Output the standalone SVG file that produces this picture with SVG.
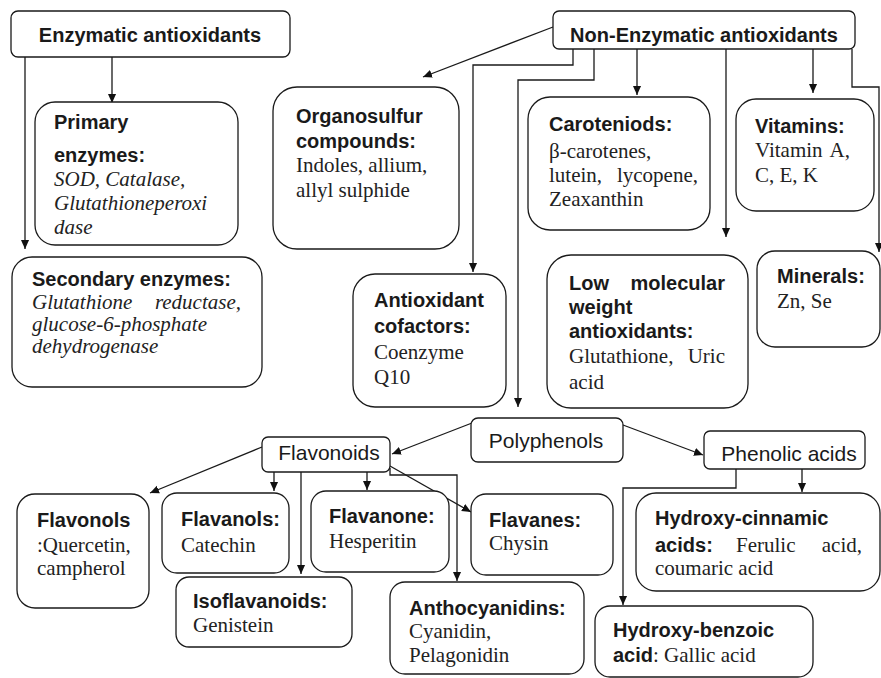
<svg xmlns="http://www.w3.org/2000/svg" width="881" height="678" viewBox="0 0 881 678">
  <defs>
    <marker id="ah" viewBox="0 0 10 10" refX="10" refY="5" markerWidth="9" markerHeight="9" markerUnits="userSpaceOnUse" orient="auto">
      <path d="M0,0.5 L10,5 L0,9.5 z" fill="#111"/>
    </marker>
    <style>
      .box { fill: #fff; stroke: #1a1a1a; stroke-width: 1.3; }
      .h { font-family: "Liberation Sans", Arial, sans-serif; font-weight: bold; font-size: 20px; fill: #1a1a1a; }
      .p { font-family: "Liberation Sans", Arial, sans-serif; font-size: 21px; fill: #1a1a1a; }
      .s { font-family: "Liberation Serif", "Times New Roman", serif; font-size: 21px; fill: #222; }
      .i { font-style: italic; }
      .c { fill: none; stroke: #1a1a1a; stroke-width: 1.3; marker-end: url(#ah); }
    </style>
  </defs>
  <rect width="881" height="678" fill="#fff"/>

  <!-- connectors -->
  <g id="connectors">
    <path class="c" d="M25,57 V249"/>
    <path class="c" d="M112,57 V103"/>
    <path class="c" d="M553,27 L423,77"/>
    <path class="c" d="M573,49 V65 H473 V272"/>
    <path class="c" d="M594,49 V80 H518 V407"/>
    <path class="c" d="M637,49 V95"/>
    <path class="c" d="M726,49 V237"/>
    <path class="c" d="M813,49 V93"/>
    <path class="c" d="M852,49 V87 H879 V252"/>
    <path class="c" d="M472,423 L392,454"/>
    <path class="c" d="M623,425 L703,455"/>
    <path class="c" d="M262,447 L150,493"/>
    <path class="c" d="M274,472 V491"/>
    <path class="c" d="M301,472 V574"/>
    <path class="c" d="M367,472 V490"/>
    <path class="c" d="M390,466 L471,512"/>
    <path class="c" d="M390,468 V475 H457 V581"/>
    <path class="c" d="M802,469 V492"/>
    <path class="c" d="M736,469 V488 H623 V605"/>
  </g>

  <g id="enzymatic">
    <rect class="box" x="11" y="11" width="279" height="46" rx="7"/>
    <text class="h" x="150" y="42" text-anchor="middle">Enzymatic antioxidants</text>
  </g>

  <g id="non-enzymatic">
    <rect class="box" x="553" y="11" width="302" height="38" rx="6"/>
    <text class="h" x="704" y="42" text-anchor="middle">Non-Enzymatic antioxidants</text>
  </g>

  <g id="primary">
    <rect class="box" x="35" y="102" width="203" height="143" rx="20"/>
    <text class="h" x="54" y="129">Primary</text>
    <text class="h" x="54" y="162">enzymes:</text>
    <text class="s i" x="54" y="186">SOD, Catalase,</text>
    <text class="s i" x="54" y="210">Glutathioneperoxi</text>
    <text class="s i" x="54" y="234">dase</text>
  </g>

  <g id="secondary">
    <rect class="box" x="12" y="257" width="250" height="130" rx="20"/>
    <text class="h" x="32" y="286">Secondary enzymes:</text>
    <text class="s i" x="32" y="309">Glutathione</text>
    <text class="s i" x="241" y="309" text-anchor="end">reductase,</text>
    <text class="s i" x="32" y="331">glucose-6-phosphate</text>
    <text class="s i" x="32" y="353">dehydrogenase</text>
  </g>

  <g id="organosulfur">
    <rect class="box" x="273" y="87" width="186" height="162" rx="24"/>
    <text class="h" x="296" y="123">Organosulfur</text>
    <text class="h" x="296" y="148">compounds:</text>
    <text class="s" x="296" y="172">Indoles, allium,</text>
    <text class="s" x="296" y="197">allyl sulphide</text>
  </g>

  <g id="carotenoids">
    <rect class="box" x="528" y="97" width="182" height="133" rx="22"/>
    <text class="h" x="549" y="131">Caroteniods:</text>
    <text class="s" x="549" y="158">β-carotenes,</text>
    <text class="s" x="549" y="182">lutein,</text>
    <text class="s" x="698" y="182" text-anchor="end">lycopene,</text>
    <text class="s" x="549" y="206">Zeaxanthin</text>
  </g>

  <g id="vitamins">
    <rect class="box" x="736" y="99" width="138" height="112" rx="20"/>
    <text class="h" x="755" y="133">Vitamins:</text>
    <text class="s" x="755" y="157">Vitamin</text>
    <text class="s" x="850" y="157" text-anchor="end">A,</text>
    <text class="s" x="755" y="182">C, E, K</text>
  </g>

  <g id="cofactors">
    <rect class="box" x="353" y="274" width="153" height="133" rx="22"/>
    <text class="h" x="374" y="307">Antioxidant</text>
    <text class="h" x="374" y="333">cofactors:</text>
    <text class="s" x="374" y="359">Coenzyme</text>
    <text class="s" x="374" y="384">Q10</text>
  </g>

  <g id="low-molecular">
    <rect class="box" x="547" y="255" width="201" height="153" rx="24"/>
    <text class="h" x="569" y="290">Low</text>
    <text class="h" x="725" y="290" text-anchor="end">molecular</text>
    <text class="h" x="569" y="314">weight</text>
    <text class="h" x="569" y="338">antioxidants:</text>
    <text class="s" x="569" y="363">Glutathione,</text>
    <text class="s" x="725" y="363" text-anchor="end">Uric</text>
    <text class="s" x="569" y="389">acid</text>
  </g>

  <g id="minerals">
    <rect class="box" x="757" y="251" width="123" height="96" rx="18"/>
    <text class="h" x="777" y="283">Minerals:</text>
    <text class="s" x="777" y="308">Zn, Se</text>
  </g>

  <g id="polyphenols">
    <rect class="box" x="471" y="418" width="152" height="44" rx="7"/>
    <text class="p" x="546" y="448" text-anchor="middle">Polyphenols</text>
  </g>

  <g id="flavonoids">
    <rect class="box" x="262" y="437" width="128" height="35" rx="6"/>
    <text class="p" x="329" y="460" text-anchor="middle">Flavonoids</text>
  </g>

  <g id="phenolic-acids">
    <rect class="box" x="704" y="431" width="161" height="38" rx="6"/>
    <text class="p" x="789" y="461" text-anchor="middle">Phenolic acids</text>
  </g>

  <g id="flavonols">
    <rect class="box" x="17" y="494" width="132" height="114" rx="18"/>
    <text class="h" x="37" y="527">Flavonols</text>
    <text class="s" x="37" y="552">:Quercetin,</text>
    <text class="s" x="37" y="575">campherol</text>
  </g>

  <g id="flavanols">
    <rect class="box" x="162" y="493" width="127" height="80" rx="15"/>
    <text class="h" x="181" y="526">Flavanols:</text>
    <text class="s" x="181" y="552">Catechin</text>
  </g>

  <g id="flavanone">
    <rect class="box" x="311" y="491" width="138" height="81" rx="15"/>
    <text class="h" x="329" y="523">Flavanone:</text>
    <text class="s" x="329" y="548">Hesperitin</text>
  </g>

  <g id="flavanes">
    <rect class="box" x="471" y="494" width="142" height="81" rx="15"/>
    <text class="h" x="489" y="527">Flavanes:</text>
    <text class="s" x="489" y="550">Chysin</text>
  </g>

  <g id="isoflavanoids">
    <rect class="box" x="176" y="577" width="176" height="70" rx="13"/>
    <text class="h" x="193" y="608">Isoflavanoids:</text>
    <text class="s" x="193" y="632">Genistein</text>
  </g>

  <g id="anthocyanidins">
    <rect class="box" x="390" y="582" width="194" height="92" rx="15"/>
    <text class="h" x="409" y="615">Anthocyanidins:</text>
    <text class="s" x="409" y="638">Cyanidin,</text>
    <text class="s" x="409" y="662">Pelagonidin</text>
  </g>

  <g id="hydroxy-cinnamic">
    <rect class="box" x="636" y="493" width="244" height="98" rx="20"/>
    <text class="h" x="655" y="525">Hydroxy-cinnamic</text>
    <text class="h" x="655" y="552">acids:</text>
    <text class="s" x="736" y="552">Ferulic</text>
    <text class="s" x="862" y="552" text-anchor="end">acid,</text>
    <text class="s" x="655" y="575">coumaric acid</text>
  </g>

  <g id="hydroxy-benzoic">
    <rect class="box" x="595" y="606" width="218" height="71" rx="15"/>
    <text class="h" x="613" y="637">Hydroxy-benzoic</text>
    <text x="613" y="662"><tspan class="h">acid</tspan><tspan class="s">: Gallic acid</tspan></text>
  </g>
</svg>
